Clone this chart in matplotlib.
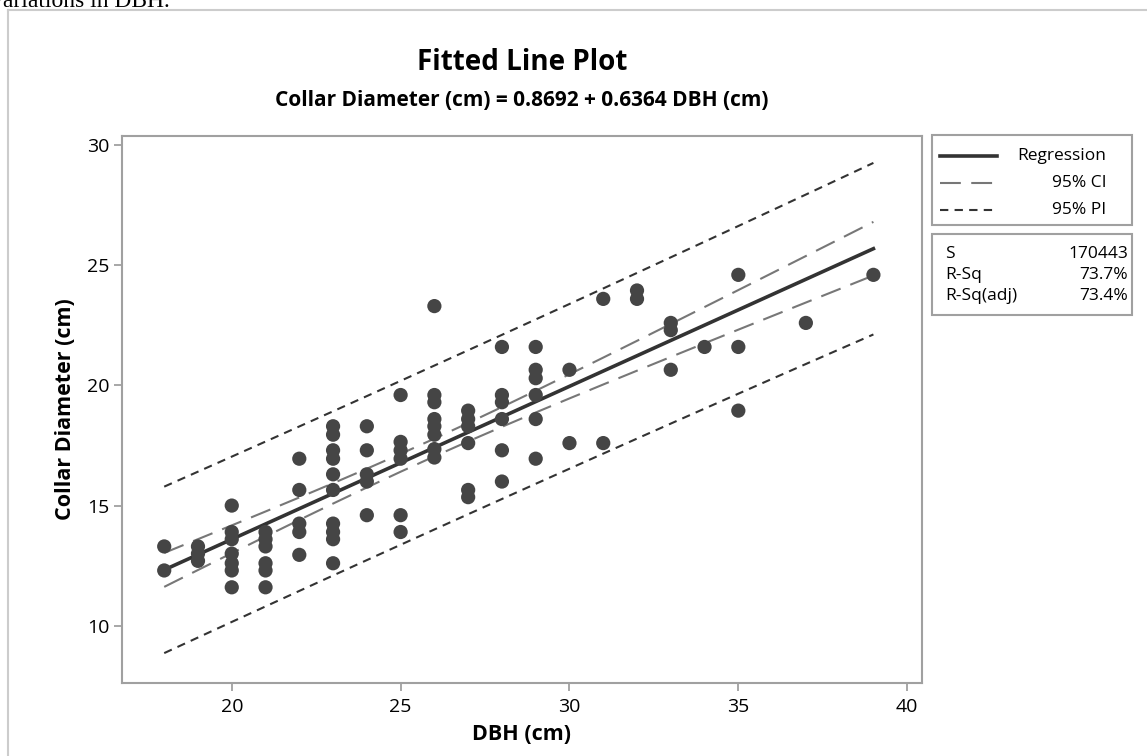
import numpy as np
import matplotlib
matplotlib.use("Agg")
import matplotlib.pyplot as plt
from matplotlib.lines import Line2D
from matplotlib.patches import Rectangle

plt.rcParams['font.family'] = ['Open Sans', 'DejaVu Sans']

# ---- data ----
dbh_18 = [13.3, 12.3]
dbh_19 = [13.3, 13.0, 12.7]
dbh_20 = [15.0, 13.9, 13.6, 13.0, 12.6, 12.3, 11.6]
dbh_21 = [13.9, 13.6, 13.3, 12.6, 12.3, 11.6]
dbh_22 = [16.95, 15.65, 14.25, 13.9, 12.95]
dbh_23 = [18.3, 17.95, 17.3, 16.95, 16.3, 15.65, 14.25, 13.9, 13.6, 12.6]
dbh_24 = [18.3, 17.3, 16.3, 16.0, 14.6]
dbh_25 = [19.6, 17.65, 17.3, 16.95, 14.6, 13.9]
dbh_26 = [23.3, 19.6, 19.3, 18.6, 18.3, 17.95, 17.35, 17.0]
dbh_27 = [18.95, 18.6, 18.3, 17.6, 15.65, 15.35]
dbh_28 = [21.6, 19.6, 19.3, 18.6, 17.3, 16.0]
dbh_29 = [21.6, 20.65, 20.3, 19.6, 18.6, 16.95]
dbh_30 = [20.65, 17.6]
dbh_31 = [23.6, 17.6]
dbh_32 = [23.95, 23.6]
dbh_33 = [22.6, 22.3, 20.65]
dbh_34 = [21.6]
dbh_35 = [24.6, 21.6, 18.95]
dbh_37 = [22.6]
dbh_39 = [24.6]

groups = {18: dbh_18, 19: dbh_19, 20: dbh_20, 21: dbh_21, 22: dbh_22,
          23: dbh_23, 24: dbh_24, 25: dbh_25, 26: dbh_26, 27: dbh_27,
          28: dbh_28, 29: dbh_29, 30: dbh_30, 31: dbh_31, 32: dbh_32,
          33: dbh_33, 34: dbh_34, 35: dbh_35, 37: dbh_37, 39: dbh_39}

x_ticks = [20, 25, 30, 35, 40]
y_ticks = [10, 15, 20, 25, 30]

intercept = 0.8692
slope = 0.6364
s_value = 1.70443
t_crit = 1.989
stat_labels = ["S", "R-Sq", "R-Sq(adj)"]
stat_values = ["170443", "73.7%", "73.4%"]
legend_labels = ["Regression", "95% CI", "95% PI"]

x = np.concatenate([[k] * len(v) for k, v in groups.items()]).astype(float)
y = np.concatenate([v for v in groups.values()]).astype(float)

n = len(x)
xbar = x.mean()
sxx = ((x - xbar) ** 2).sum()
xg = np.linspace(x.min(), x.max(), 22)
fit = intercept + slope * xg
ci = t_crit * s_value * np.sqrt(1.0 / n + (xg - xbar) ** 2 / sxx)
pi = t_crit * s_value * np.sqrt(1 + 1.0 / n + (xg - xbar) ** 2 / sxx)

# ---- figure ----
W, H = 1147, 756
fig = plt.figure(figsize=(W / 100, H / 100), dpi=100)

def fx(px):
    return px / W

def fy(py):
    return 1 - py / H

# outer frame lines
fig.add_artist(Line2D([fx(8), fx(8)], [fy(10), 0], color='#cccccc', lw=1.5))
fig.add_artist(Line2D([fx(8), 1], [fy(10), fy(10)], color='#cccccc', lw=1.5))
fig.text(fx(-9), fy(7), "variations in DBH.", family='Liberation Serif',
         fontsize=17, ha='left', va='baseline')

ax = fig.add_axes([fx(122), fy(682.7), fx(921.7 - 122), (682.7 - 135.7) / H])
ax.set_xlim(16.75, 40.43)
ax.set_ylim(7.63, 30.39)

ax.plot(xg, fit, color='#333333', lw=2.6, zorder=3)
for sgn in (1, -1):
    ax.plot(xg, fit + sgn * ci, color='#777777', lw=1.5, dashes=(10, 5), zorder=2)
    ax.plot(xg, fit + sgn * pi, color='#333333', lw=1.5, dashes=(4, 3), zorder=2)
ax.scatter(x, y, s=105, color='#454545', edgecolors='none', zorder=4)

for sp in ax.spines.values():
    sp.set_color('#a0a0a0')
    sp.set_linewidth(1.5)
ax.set_xticks(x_ticks)
ax.set_yticks(y_ticks)
ax.tick_params(direction='out', length=6, width=1.3, color='#a0a0a0',
               labelsize=14)
ax.tick_params(axis='x', pad=5)
ax.tick_params(axis='y', pad=3)
ax.set_xlabel("DBH (cm)", fontsize=15.5, fontweight='bold', labelpad=6)
ax.set_ylabel("Collar Diameter (cm)", fontsize=15.5, fontweight='bold', labelpad=8)

fig.text(fx(522), fy(62), "Fitted Line Plot", fontsize=20, fontweight='bold',
         ha='center', va='center')
fig.text(fx(522), fy(101), "Collar Diameter (cm) = 0.8692 + 0.6364 DBH (cm)",
         fontsize=15, fontweight='bold', ha='center', va='center')

# legend box
bx0, bx1 = 932, 1131.7
fig.add_artist(Rectangle((fx(bx0), fy(225)), fx(bx1 - bx0), (225 - 135) / H,
                         fill=False, edgecolor='#a0a0a0', lw=1.5))
fig.add_artist(Rectangle((fx(bx0), fy(315)), fx(bx1 - bx0), (315 - 234) / H,
                         fill=False, edgecolor='#a0a0a0', lw=1.5))
leg_y = [156, 183, 210]
styles = [dict(color='#333333', lw=2.6),
          dict(color='#777777', lw=1.5, dashes=(10, 5)),
          dict(color='#333333', lw=1.5, dashes=(4, 3))]
for ly, lab, st in zip(leg_y, legend_labels, styles):
    fig.add_artist(Line2D([fx(940), fx(997)], [fy(ly), fy(ly)], **st))
    fig.text(fx(1106), fy(ly), lab, fontsize=12.5, ha='right', va='center')

stat_y = [254, 275, 296]
for sy, lab, val in zip(stat_y, stat_labels, stat_values):
    fig.text(fx(945), fy(sy), lab, fontsize=12.5, ha='left', va='center')
    fig.text(fx(1128), fy(sy), val, fontsize=12.5, ha='right', va='center')

fig.savefig("out.png", dpi=100)
